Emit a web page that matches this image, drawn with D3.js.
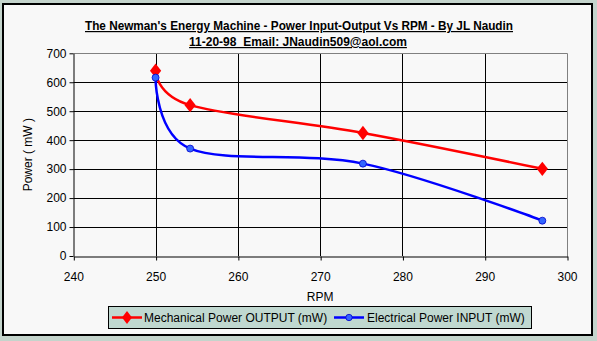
<!DOCTYPE html>
<html>
<head>
<meta charset="utf-8">
<script src="https://cdn.jsdelivr.net/npm/d3@7"></script>
<style>
  body { margin: 0; background: #c4d4cc; }
  svg { display: block; }
</style>
</head>
<body>
<script>
// data
var rpm = [250, 254.2, 275.2, 297];
var mechOutput = [640, 521, 425, 301];
var elecInput = [616, 371, 319, 122];
var xTicks = [240, 250, 260, 270, 280, 290, 300];
var yTicks = [0, 100, 200, 300, 400, 500, 600, 700];
var seriesNames = ["Mechanical Power OUTPUT (mW)", "Electrical Power INPUT (mW)"];

var W = 597, H = 341;
var svg = d3.select("body").append("svg")
  .attr("width", W)
  .attr("height", H);

// chart area
svg.append("rect")
  .attr("x", 3).attr("y", 4)
  .attr("width", 589).attr("height", 331)
  .attr("fill", "#f8f8f8")
  .attr("stroke", "#000")
  .attr("stroke-width", 2);

var x = d3.scaleLinear().domain([240, 300]).range([73.3, 567]);
var y = d3.scaleLinear().domain([0, 700]).range([256, 53.3]);

var font = "Arial, 'Liberation Sans', sans-serif";

// title
svg.append("text")
  .attr("x", 299).attr("y", 30)
  .attr("text-anchor", "middle")
  .attr("textLength", 428)
  .attr("lengthAdjust", "spacingAndGlyphs")
  .style("font-family", font)
  .style("font-size", "12px")
  .style("font-weight", "bold")
  .style("text-decoration", "underline")
  .text("The Newman's Energy Machine - Power Input-Output Vs RPM - By JL Naudin");
svg.append("text")
  .attr("x", 298).attr("y", 46)
  .attr("text-anchor", "middle")
  .style("font-family", font)
  .style("font-size", "12px")
  .style("font-weight", "bold")
  .style("text-decoration", "underline")
  .style("white-space", "pre")
  .text("11-20-98  Email: JNaudin509@aol.com");

// grid
var grid = svg.append("g");
grid.selectAll(".hg").data(yTicks.slice(1, -1)).enter().append("line")
  .attr("x1", x(240)).attr("x2", x(300))
  .attr("y1", function(d) { return Math.round(y(d)) + 0.5; })
  .attr("y2", function(d) { return Math.round(y(d)) + 0.5; })
  .attr("stroke", "#000");
grid.selectAll(".vg").data(xTicks.slice(1, -1)).enter().append("line")
  .attr("y1", y(0)).attr("y2", y(700))
  .attr("x1", function(d) { return Math.round(x(d)) + 0.5; })
  .attr("x2", function(d) { return Math.round(x(d)) + 0.5; })
  .attr("stroke", "#000");
// plot border top/right gray
grid.append("path")
  .attr("d", "M" + (Math.round(x(240)) + 0.5) + "," + (Math.round(y(700)) + 0.5) +
    "H" + (Math.round(x(300)) + 0.5) + "V" + (Math.round(y(0)) + 0.5))
  .attr("fill", "none")
  .attr("stroke", "#808080");

// axes
var xAxis = d3.axisBottom(x).tickValues(xTicks).tickSize(4).tickSizeOuter(0);
var yAxis = d3.axisLeft(y).tickValues(yTicks).tickSize(4).tickSizeOuter(0);

var gx = svg.append("g")
  .attr("transform", "translate(0," + (Math.round(y(0)) + 0.5) + ")")
  .call(xAxis);
gx.selectAll("line").attr("transform", "translate(0.5,0)");
gx.select(".domain").attr("transform", "translate(0.5,0)");
gx.selectAll("text").attr("dy", "1em").attr("y", 12);

var gy = svg.append("g")
  .attr("transform", "translate(" + (Math.round(x(240)) + 0.5) + ",0)")
  .call(yAxis);
gy.selectAll("text").attr("x", -7);

svg.selectAll(".tick line, .domain").attr("stroke", "#000");
svg.selectAll(".tick text")
  .style("font-family", font)
  .style("font-size", "12px")
  .attr("fill", "#000");

// axis titles
svg.append("text")
  .attr("x", x(270)).attr("y", 301)
  .attr("text-anchor", "middle")
  .style("font-family", font)
  .style("font-size", "12px")
  .text("RPM");
svg.append("text")
  .attr("transform", "translate(32," + y(350) + ") rotate(-90)")
  .attr("text-anchor", "middle")
  .style("font-family", font)
  .style("font-size", "12px")
  .text("Power ( mW )");

// lines
var line = d3.line()
  .x(function(d) { return x(d[0]); })
  .y(function(d) { return y(d[1]); })
  .curve(d3.curveCardinal.tension(0));

var mechPts = rpm.map(function(r, i) { return [r, mechOutput[i]]; });
var elecPts = rpm.map(function(r, i) { return [r, elecInput[i]]; });

svg.append("path").datum(mechPts)
  .attr("d", line)
  .attr("fill", "none")
  .attr("stroke", "#ff0000")
  .attr("stroke-width", 2.5);
svg.append("path").datum(elecPts)
  .attr("d", line)
  .attr("fill", "none")
  .attr("stroke", "#0000ff")
  .attr("stroke-width", 2.5);

var diamond = d3.symbol().type(d3.symbolDiamond).size(60);
svg.selectAll(".mk").data(mechPts).enter().append("path")
  .attr("d", diamond)
  .attr("transform", function(d) { return "translate(" + x(d[0]) + "," + y(d[1]) + ") scale(1.35,1)"; })
  .attr("fill", "#ff0000");
svg.selectAll(".ek").data(elecPts).enter().append("circle")
  .attr("cx", function(d) { return x(d[0]); })
  .attr("cy", function(d) { return y(d[1]); })
  .attr("r", 3.5)
  .attr("fill", "#3366ff")
  .attr("stroke", "#0000cc")
  .attr("stroke-width", 0.8);

// legend
var lg = svg.append("g");
lg.append("rect")
  .attr("x", 108.5).attr("y", 306.5)
  .attr("width", 423).attr("height", 22)
  .attr("fill", "#c0d8d0")
  .attr("stroke", "#000");

var legendItems = [
  { name: seriesNames[0], color: "#ff0000", x0: 112, tx: 144, mark: "diamond" },
  { name: seriesNames[1], color: "#0000ff", x0: 334, tx: 367, mark: "circle" }
];
legendItems.forEach(function(it) {
  lg.append("line")
    .attr("x1", it.x0).attr("x2", it.x0 + 30)
    .attr("y1", 317.5).attr("y2", 317.5)
    .attr("stroke", it.color)
    .attr("stroke-width", 2.5);
  if (it.mark === "diamond") {
    lg.append("path")
      .attr("d", diamond)
      .attr("transform", "translate(" + (it.x0 + 15) + ",317.5) scale(1.2,0.9)")
      .attr("fill", it.color);
  } else {
    lg.append("circle")
      .attr("cx", it.x0 + 15).attr("cy", 317.5).attr("r", 3.2)
      .attr("fill", "#3366ff")
      .attr("stroke", "#0000cc")
      .attr("stroke-width", 0.8);
  }
  lg.append("text")
    .attr("x", it.tx).attr("y", 322)
    .style("font-family", font)
    .style("font-size", "12px")
    .text(it.name);
});
</script>
</body>
</html>
